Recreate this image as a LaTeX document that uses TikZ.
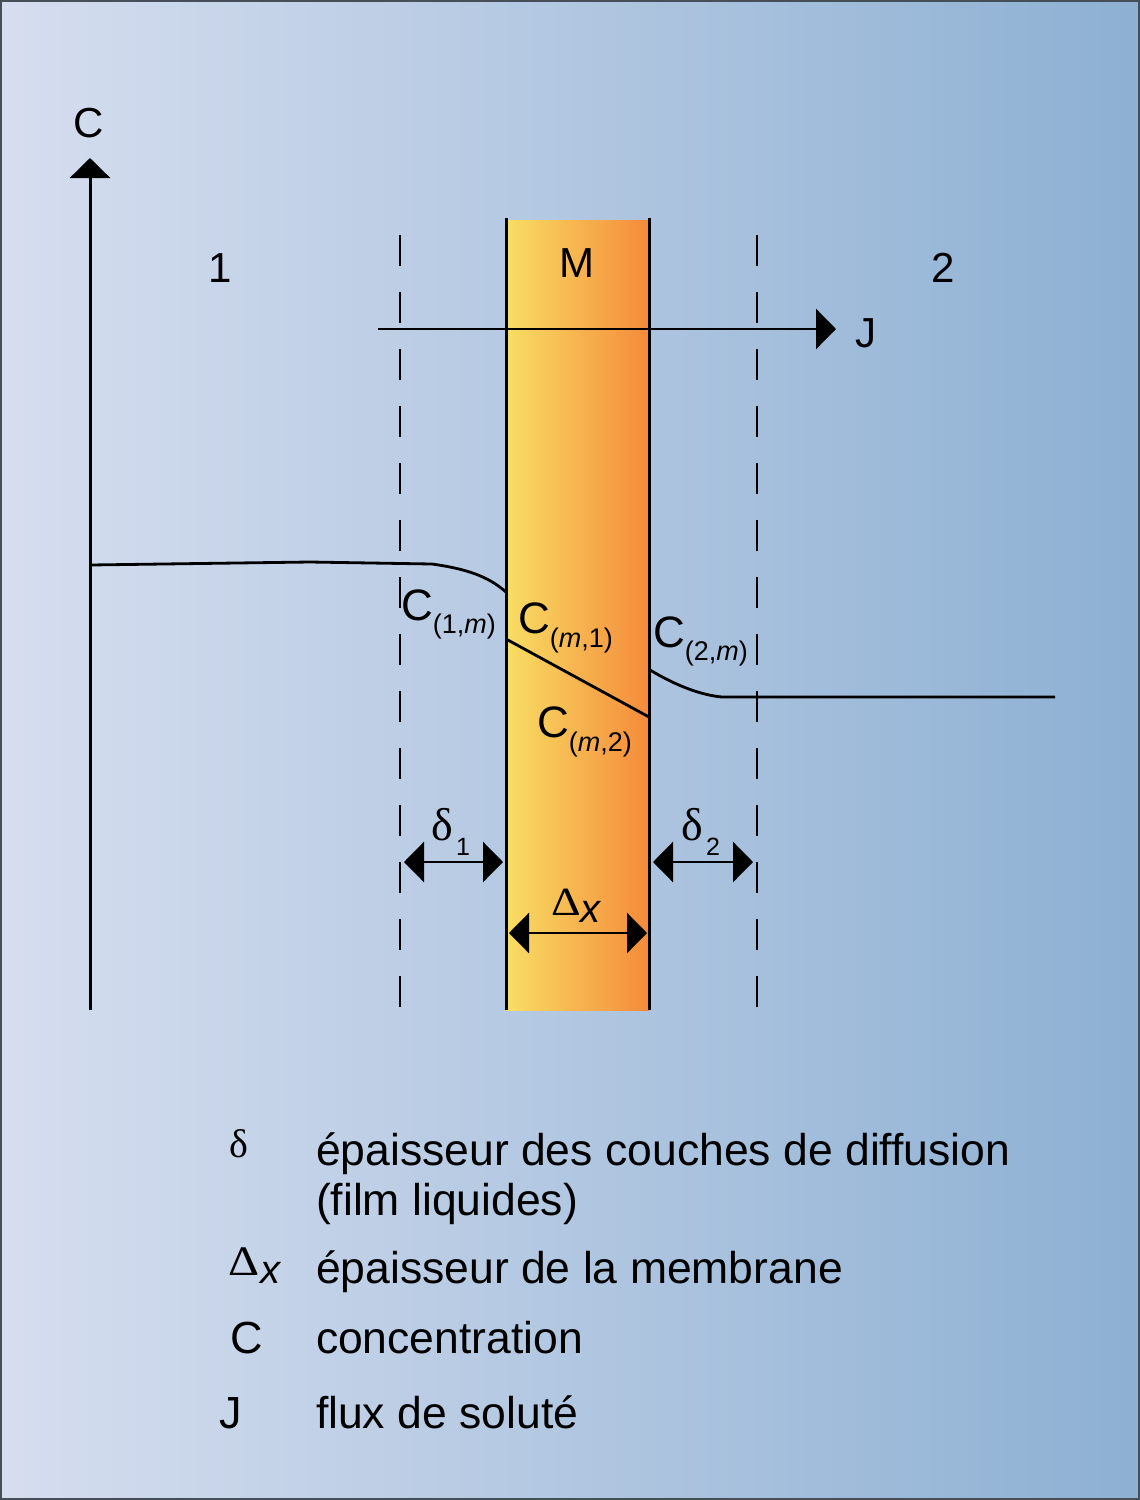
\documentclass[tikz,border=0pt]{standalone}
\usepackage{fontspec}
\setmainfont{Liberation Sans}
\newfontfamily\grk{Liberation Serif}
\usetikzlibrary{arrows.meta}
\definecolor{bgL}{RGB}{214,222,239}
\definecolor{bgR}{RGB}{141,176,211}
\definecolor{memL}{RGB}{248,222,100}
\definecolor{memR}{RGB}{245,138,58}
\definecolor{framec}{RGB}{70,78,88}
\newcommand{\fsz}[1]{\fontsize{#1}{#1}\selectfont}
\begin{document}
\begin{tikzpicture}[x=1pt,y=-1pt,
  lbl/.style={inner sep=0pt,outer sep=0pt,anchor=base west,font=\fsz{42}},
  clbl/.style={lbl,font=\fsz{44}},
  leg/.style={lbl,font=\fsz{44.5}},
  ln/.style={line width=2.8pt},
  dsh/.style={line width=2.6pt,dash pattern=on 31pt off 26pt},
  tip/.style={-{Triangle[length=20pt,width=40pt]}},
  dtip/.style={{Triangle[length=20pt,width=40pt]}-{Triangle[length=20pt,width=40pt]}}
]
\useasboundingbox (0,0) rectangle (1140,1500);
\shade[left color=bgL,right color=bgR] (0,0) rectangle (1140,1500);
\draw[framec,line width=2pt] (1,1) rectangle (1139,1499);

% membrane
\shade[left color=memL,right color=memR] (506,220) rectangle (649,1010);
\coordinate (mlt) at (506,218); \coordinate (mlb) at (506,1010);
\coordinate (mrt) at (649,218); \coordinate (mrb) at (649,1010);
\draw[line width=3pt] (mlt) -- (mlb);
\draw[line width=3pt] (mrt) -- (mrb);

% dashed boundaries
\coordinate (d1t) at (400,235); \coordinate (d1b) at (400,1010);
\coordinate (d2t) at (757,235); \coordinate (d2b) at (757,1010);
\draw[dsh] (d1t) -- (d1b);
\draw[dsh] (d2t) -- (d2b);

% axis
\coordinate (ax0) at (90,1010); \coordinate (axT) at (90,158);
\draw[line width=3pt,tip] (ax0) -- (axT);
\node[lbl] (cax) at (73,137) {C};

% flux arrow
\coordinate (j0) at (378,329); \coordinate (j1) at (836,329);
\draw[ln,tip] (j0) -- (j1);
\node[lbl] (jlab) at (855,347) {J};

% region labels
\node[lbl,anchor=base] (r1) at (220,282) {1};
\node[lbl,anchor=base] (rM) at (577,277) {M};
\node[lbl,anchor=base] (r2) at (943,282) {2};

% concentration profile
\draw[ln] (90,565) -- (310,562) -- (432,564) .. controls (475,570) and (492,580) .. (506,592);
\draw[ln] (506,639) -- (649,717);
\draw[ln] (650,670) .. controls (675,685) and (700,695) .. (722,697) -- (1055,697);

% concentration labels
\node[clbl] (c1m) at (401,620) {C\raisebox{-13pt}{\fsz{27}(1,\textit{m})}};
\node[clbl] (cm1) at (518,633) {C\raisebox{-14pt}{\fsz{27}(\textit{m},1)}};
\node[clbl] (cm2) at (537,737) {C\raisebox{-14pt}{\fsz{27}(\textit{m},2)}};
\node[clbl] (c2m) at (653,647) {C\raisebox{-13pt}{\fsz{27}(2,\textit{m})}};

% thickness arrows
\coordinate (a1l) at (404,862); \coordinate (a1r) at (503,862);
\coordinate (a2l) at (653,862); \coordinate (a2r) at (753,862);
\coordinate (axl) at (509,933); \coordinate (axr) at (647,933);
\draw[ln,dtip] (a1l) -- (a1r);
\draw[ln,dtip] (a2l) -- (a2r);
\draw[ln,dtip] (axl) -- (axr);
\node[lbl,font=\grk\fsz{46}] (dl1) at (431,840) {δ};
\node[lbl,font=\fsz{25}] (dl1s) at (456,855) {1};
\node[lbl,font=\grk\fsz{46}] (dl2) at (681,840) {δ};
\node[lbl,font=\fsz{25}] (dl2s) at (706,855) {2};
\node[lbl,font=\grk\fsz{40}] (dxD) at (551,915) {\scalebox{1.15}[1]{Δ}};
\node[lbl,font=\fsz{40}\itshape] (dxx) at (580,922) {x};

% legend
\node[lbl,font=\grk\fsz{40}] (lg1s) at (229,1157) {δ};
\node[leg] (lg1a) at (316,1165) {épaisseur des couches de diffusion};
\node[leg] (lg1b) at (316,1215) {(film liquides)};
\node[lbl,font=\grk\fsz{42}] (lg2s) at (228,1275) {\scalebox{1.15}[1]{Δ}};
\node[lbl,font=\fsz{40}\itshape] (lg2x) at (260,1283) {x};
\node[leg] (lg2) at (316,1283) {épaisseur de la membrane};
\node[lbl,font=\fsz{45}] (lg3s) at (230,1353) {C};
\node[leg] (lg3) at (316,1353) {concentration};
\node[lbl,font=\fsz{45}] (lg4s) at (219,1428) {J};
\node[leg] (lg4) at (316,1428) {flux de soluté};
\end{tikzpicture}
\end{document}
